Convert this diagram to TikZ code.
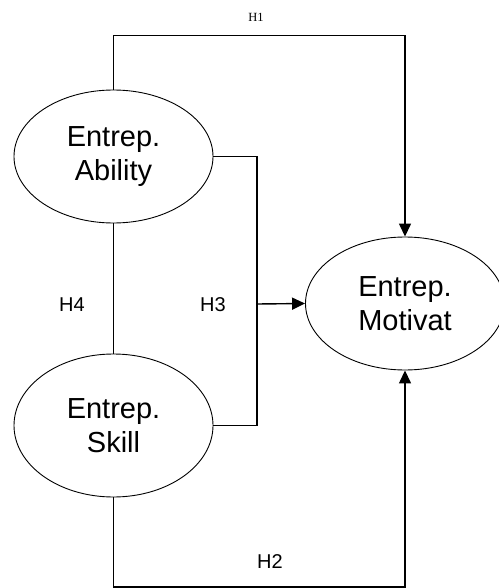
\documentclass[tikz,border=0pt]{standalone}
\usepackage{fontspec}
\setmainfont{Liberation Sans}
\newfontfamily\serifh{Liberation Serif}
\usetikzlibrary{shapes.geometric,arrows.meta}
\begin{document}
\begin{tikzpicture}[x=1pt,y=-1pt,
  construct/.style={draw,ellipse,line width=0.9pt,minimum width=199pt,minimum height=133pt,inner sep=0pt,align=center,font=\fontsize{29}{34}\selectfont},
  conn/.style={line width=1.4pt},
  arr/.style={conn,-{Triangle[length=13pt,width=12pt]}},
  hlab/.style={font=\fontsize{20}{24}\selectfont,inner sep=0pt}]
\useasboundingbox (0,0) rectangle (498,588);
\node[construct] (ab) at (113.5,156.5) {Entrep.\\Ability};
\node[construct,minimum height=143pt] (sk) at (113.5,425.5) {Entrep.\\Skill};
\node[construct] (mo) at (405,303.5) {Entrep.\\Motivat};
\coordinate (j) at (257,304);
\draw[arr] (ab.north) -- ++(0,-54) -| (mo.north);
\draw[conn] (ab.east) -| (j) |- (sk.east);
\draw[arr] (j) -- (mo.west);
\draw[conn] (ab.south) -- (sk.north);
\draw[arr] (sk.south) -- ++(0,89.5) -| (mo.south);
\node[font=\serifh\fontsize{12.5}{14}\selectfont,inner sep=0pt] (h1) at (256,17) {H1};
\node[hlab] (h4) at (72,305) {H4};
\node[hlab] (h3) at (213,305) {H3};
\node[hlab] (h2) at (270,562) {H2};
\end{tikzpicture}
\end{document}
